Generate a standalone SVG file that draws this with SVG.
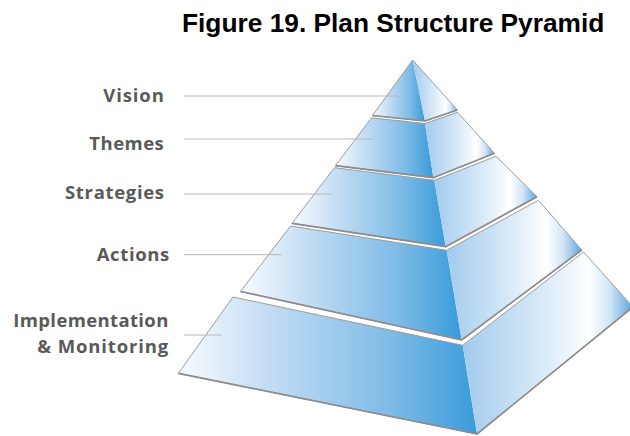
<svg xmlns="http://www.w3.org/2000/svg" width="630" height="436" viewBox="0 0 630 436">
<defs>
<linearGradient id="gL" x1="0" y1="0" x2="1" y2="0">
<stop offset="0" stop-color="#f8fbfe"/>
<stop offset="0.3" stop-color="#c3ddf3"/>
<stop offset="0.7" stop-color="#80bce7"/>
<stop offset="1" stop-color="#3a9bda"/>
</linearGradient>
<linearGradient id="gR" x1="0" y1="0" x2="1" y2="0">
<stop offset="0" stop-color="#a3cbed"/>
<stop offset="0.5" stop-color="#dcecf9"/>
<stop offset="0.74" stop-color="#ffffff"/>
<stop offset="0.86" stop-color="#d3e6f6"/>
<stop offset="1" stop-color="#5ea5dc"/>
</linearGradient>
<style>
.l{fill:url(#gL);stroke:none}
.r{fill:url(#gR);stroke:none}
.o{fill:none;stroke:#9c9c9c;stroke-width:1;stroke-linejoin:round}
.b{fill:none;stroke:#8c8c8c;stroke-width:1.7;stroke-linejoin:round}
.t{font-family:"Open Sans","DejaVu Sans",sans-serif;font-weight:bold;font-size:18.5px;fill:#5a5a5a}
.c line{stroke:#b8b8b8;stroke-width:1}
</style>
</defs>
<rect width="630" height="436" fill="#ffffff"/>
<text x="182" y="31.7" font-family="'Liberation Sans',Arial,sans-serif" font-weight="bold" font-size="26.3" fill="#000">Figure 19. Plan Structure Pyramid</text>

<g id="tier-vision">
<polygon class="l" points="412.7,60 372.5,115.5 425,121"/>
<polygon class="r" points="412.7,60 425,121 457.3,110"/>
<polygon class="o" points="412.7,60 457.3,110 425,121 372.5,115.5"/>
<polyline class="b" points="372.5,115.5 425,121 457.3,110"/>
<text class="t" x="103.3" y="101.7" textLength="60.5" lengthAdjust="spacing">Vision</text>
</g>

<g id="tier-themes">
<polygon class="l" points="371.5,117.8 425,123.5 433.3,177.7 335.5,165.7"/>
<polygon class="r" points="425,123.5 457.5,112.3 494.5,153.3 433.3,177.7"/>
<polygon class="o" points="371.5,117.8 425,123.5 457.5,112.3 494.5,153.3 433.3,177.7 335.5,165.7"/>
<polyline class="b" points="335.5,165.7 433.3,177.7 494.5,153.3"/>
<text class="t" x="89.3" y="150" textLength="74.5" lengthAdjust="spacing">Themes</text>
</g>

<g id="tier-strategies">
<polygon class="l" points="334.5,167.7 434.3,180.3 445.7,246.7 292,223.3"/>
<polygon class="r" points="434.3,180.3 496,156.3 537,196.7 445.7,246.7"/>
<polygon class="o" points="334.5,167.7 434.3,180.3 496,156.3 537,196.7 445.7,246.7 292,223.3"/>
<polyline class="b" points="292,223.3 445.7,246.7 537,196.7"/>
<text class="t" x="65" y="199" textLength="99" lengthAdjust="spacing">Strategies</text>
</g>

<g id="tier-actions">
<polygon class="l" points="290.5,226 446.7,250.3 461.7,340 240.5,291.5"/>
<polygon class="r" points="446.7,250.3 538.5,200.3 581.7,250 461.7,340"/>
<polygon class="o" points="290.5,226 446.7,250.3 538.5,200.3 581.7,250 461.7,340 240.5,291.5"/>
<polyline class="b" points="240.5,291.5 461.7,340 581.7,250"/>
<text class="t" x="96.7" y="260.7" textLength="72.6" lengthAdjust="spacing">Actions</text>
</g>

<g id="tier-implementation">
<polygon class="l" points="233,297 462.7,345.3 477,434 178.3,373.3"/>
<polygon class="r" points="462.7,345.3 583.5,252 633,307 477,434"/>
<polygon class="o" points="233,297 462.7,345.3 583.5,252 633,307 477,434 178.3,373.3"/>
<polyline class="b" points="178.3,373.3 477,434 633,307"/>
<text class="t" x="13.3" y="327" textLength="155" lengthAdjust="spacing">Implementation</text>
<text class="t" x="37.3" y="353.3" textLength="131" lengthAdjust="spacing">&amp; Monitoring</text>
</g>

<g id="connectors" class="c">
<line x1="184" y1="96" x2="398" y2="96"/>
<line x1="184" y1="139" x2="374" y2="139"/>
<line x1="184" y1="194" x2="331.7" y2="194"/>
<line x1="184" y1="254.7" x2="281.7" y2="254.7"/>
<line x1="184" y1="335" x2="221.7" y2="335"/>
</g>
</svg>
